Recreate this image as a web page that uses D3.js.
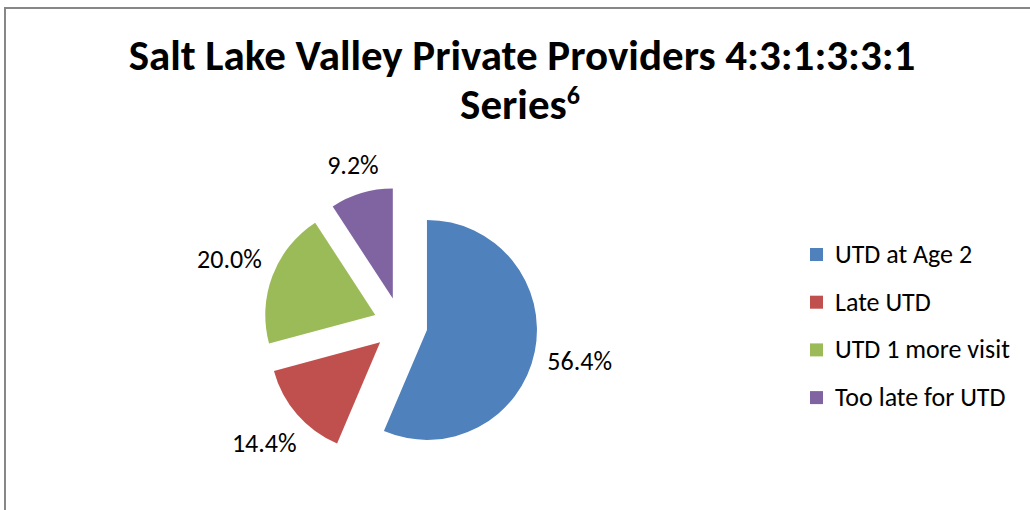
<!DOCTYPE html>
<html><head><meta charset="utf-8">
<script src="https://cdn.jsdelivr.net/npm/d3@7"></script>
<style>body{margin:0;background:#fff}svg{display:block}</style>
</head><body>
<svg id="chart" width="1030" height="510"></svg>
<script>
const categories = ["UTD at Age 2", "Late UTD", "UTD 1 more visit", "Too late for UTD"];
const values = [56.4, 14.4, 20.0, 9.2];
const colors = ["#4F81BD", "#C0504D", "#9BBB59", "#8064A2"];
const titleLines = ["Salt Lake Valley Private Providers 4:3:1:3:3:1", "Series"];
const titleSup = "6";

const svg = d3.select("#chart");
const font = "Carlito, Calibri, 'Open Sans', sans-serif";

svg.append("rect").attr("x", 5).attr("y", 8).attr("width", 1100).attr("height", 700)
  .attr("fill", "#fff").attr("stroke", "#878787").attr("stroke-width", 2);

// title
svg.append("text").attr("x", 522).attr("y", 70).attr("text-anchor", "middle")
  .attr("font-family", font).attr("font-weight", "bold").attr("font-size", 43).attr("fill", "#000")
  .text(titleLines[0]);
const t2 = svg.append("text").attr("x", 520).attr("y", 119).attr("text-anchor", "middle")
  .attr("font-family", font).attr("font-weight", "bold").attr("font-size", 43).attr("fill", "#000");
t2.append("tspan").text(titleLines[1]);
t2.append("tspan").attr("font-size", 26).attr("dy", -15).text(titleSup);

// pie
const cx = 400.5, cy = 324.5, r = 110, explode = 27;
const pie = d3.pie().sort(null).value(d => d)(values);
const arc = d3.arc().innerRadius(0).outerRadius(r);
const g = svg.append("g").attr("transform", `translate(${cx},${cy})`);
pie.forEach((p, i) => {
  const mid = (p.startAngle + p.endAngle) / 2;
  const dx = Math.sin(mid) * explode, dy = -Math.cos(mid) * explode;
  g.append("path").attr("d", arc(p)).attr("fill", colors[i])
    .attr("transform", `translate(${dx},${dy})`);
});

// labels
const fmt = d3.format(".1f");
pie.forEach((p, i) => {
  const mid = (p.startAngle + p.endAngle) / 2;
  const ux = Math.sin(mid), uy = -Math.cos(mid);
  const txt = fmt(values[i]) + "%";
  const t = g.append("text").attr("text-anchor", "middle").attr("font-family", font)
    .attr("font-size", 26).attr("fill", "#000").text(txt);
  const w = t.node().getComputedTextLength(), h = 22;
  const support = Math.abs(ux) * w / 2 + Math.abs(uy) * h / 2;
  const d = r + explode + 12 + support;
  t.attr("x", ux * d).attr("y", uy * d + 9);
});

// legend
const leg = svg.append("g").attr("transform", "translate(810,254)");
categories.forEach((c, i) => {
  const y = i * 47.7;
  leg.append("rect").attr("x", 0).attr("y", y - 6).attr("width", 13).attr("height", 13).attr("fill", colors[i]);
  leg.append("text").attr("x", 25).attr("y", y + 9).attr("font-family", font).attr("font-size", 26)
    .attr("fill", "#000").text(c);
});
</script>
</body></html>
